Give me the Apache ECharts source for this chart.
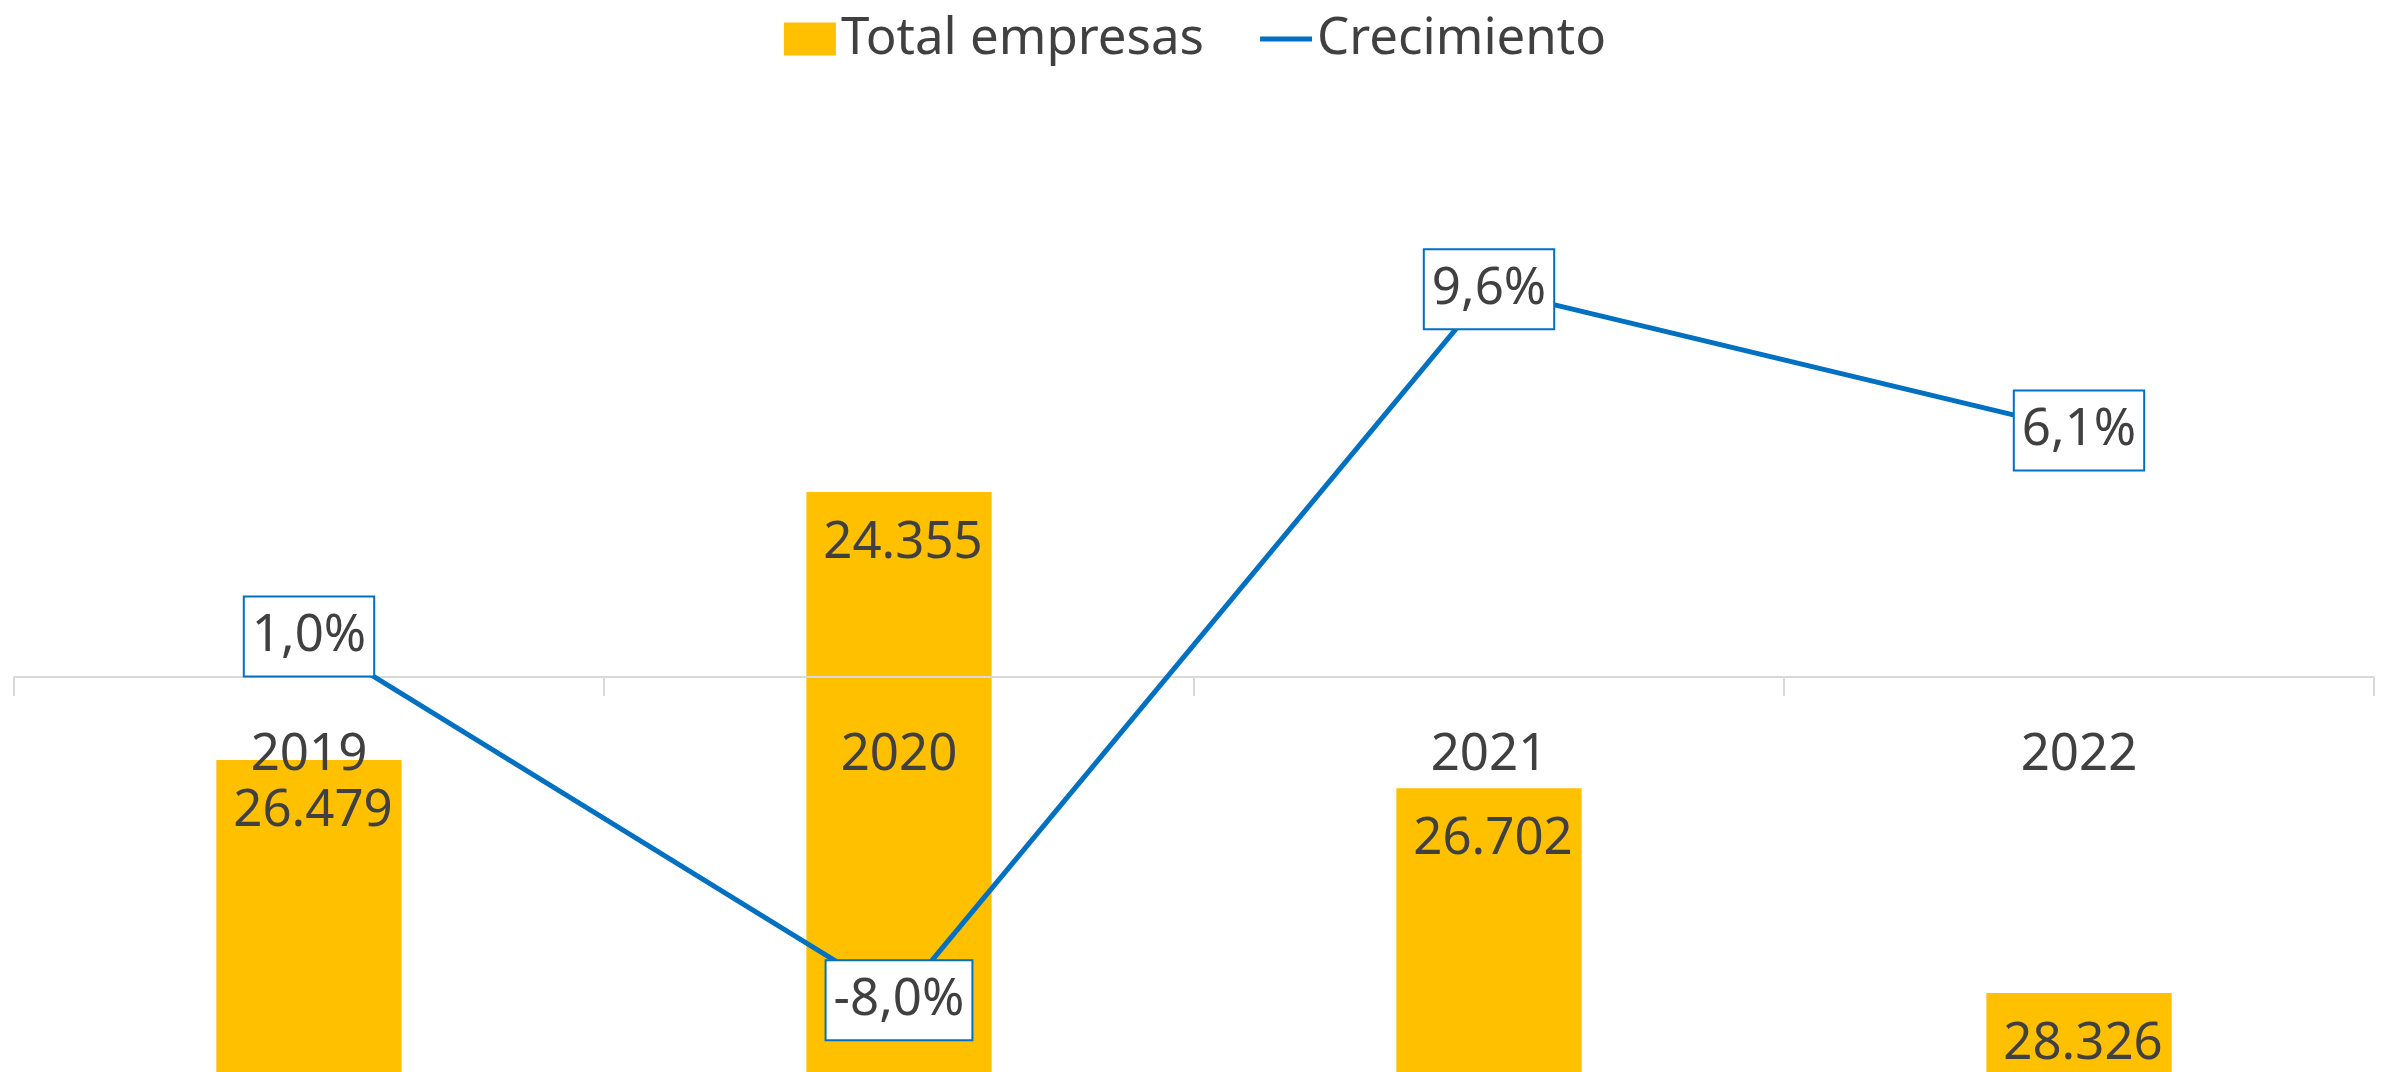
<!DOCTYPE html>
<html>
<head>
<meta charset="utf-8">
<script src="https://cdn.jsdelivr.net/npm/echarts@6/dist/echarts.min.js"></script>
<style>
  html, body { margin: 0; padding: 0; background: #fff; }
  #chart { width: 2390px; height: 1072px; }
</style>
</head>
<body>
<div id="chart"></div>
<script>
// datos del gráfico
const years = ['2019', '2020', '2021', '2022'];
const totalEmpresas = [26479, 24355, 26702, 28326];
const crecimiento = [1.0, -8.0, 9.6, 6.1];

const FONT = '"Noto Sans", "Open Sans", sans-serif';
const TEXT = '#404040';
const AMARILLO = '#FFC000';
const AZUL = '#0070C0';

const fmtMiles = v => String(v).replace(/\B(?=(\d{3})+(?!\d))/g, '.');
const fmtPct = v => v.toFixed(1).replace('.', ',') + '%';

const chart = echarts.init(document.getElementById('chart'));

chart.setOption({
    backgroundColor: '#fff',
    animation: false,
    textStyle: { fontFamily: FONT },
    legend: {
        top: 8,
        left: 'center',
        itemWidth: 52,
        itemHeight: 33,
        itemGap: 56,
        textStyle: { fontFamily: FONT, fontSize: 51, lineHeight: 52, color: TEXT },
        data: [
            { name: 'Total empresas', icon: 'rect' },
            { name: 'Crecimiento', icon: 'path://M0 0H52V5H0Z' }
        ]
    },
    grid: { left: 14, right: 16, top: 71, bottom: -9, containLabel: false, outerBoundsMode: 'none' },
    xAxis: {
        type: 'category',
        data: years,
        z: 3,
        position: 'bottom',
        // la línea del eje se sitúa en el 0 % del crecimiento
        offset: -404,
        axisLine: { onZero: false, lineStyle: { color: '#D9D9D9', width: 2 } },
        axisTick: { show: true, length: 19, lineStyle: { color: '#D9D9D9', width: 2 } },
        axisLabel: { show: true, fontFamily: FONT, fontSize: 51, lineHeight: 60, color: TEXT, margin: 48 },
        splitLine: { show: false }
    },
    yAxis: [
        // eje del crecimiento (%)
        { type: 'value', min: -10, max: 15, show: false, splitLine: { show: false } },
        // eje de empresas (invertido)
        { type: 'value', min: 21018, max: 29023, inverse: true, show: false, splitLine: { show: false } }
    ],
    series: [
        {
            name: 'Total empresas',
            type: 'custom',
            yAxisIndex: 1,
            z: 1,
            itemStyle: { color: AMARILLO },
            encode: { x: 0, y: 1 },
            data: totalEmpresas.map((v, i) => [i, v]),
            renderItem: (params, api) => {
                const v = api.value(1);
                const top = api.coord([api.value(0), v]);
                const w = api.size([1, 0])[0] * 0.314;
                const bottom = params.coordSys.y + params.coordSys.height;
                return {
                    type: 'group',
                    children: [
                        { type: 'rect', shape: { x: top[0] - w / 2, y: top[1], width: w, height: bottom - top[1] }, style: { fill: AMARILLO } },
                        { type: 'text', style: { text: fmtMiles(v), x: top[0] + 4, y: top[1] + 51, align: 'center', verticalAlign: 'middle', font: '51px ' + FONT, fill: TEXT } }
                    ]
                };
            }
        },
        {
            name: 'Crecimiento',
            type: 'line',
            yAxisIndex: 0,
            z: 5,
            data: crecimiento,
            symbol: 'circle',
            symbolSize: 1,
            itemStyle: { color: AZUL },
            lineStyle: { color: AZUL, width: 5 },
            label: {
                show: true,
                position: 'inside',
                formatter: p => fmtPct(p.value),
                fontFamily: FONT,
                fontSize: 51,
                lineHeight: 60,
                color: TEXT,
                backgroundColor: '#fff',
                borderColor: AZUL,
                borderWidth: 2,
                borderRadius: 0,
                padding: [9, 7, 9, 7]
            }
        }
    ]
});
</script>
</body>
</html>
